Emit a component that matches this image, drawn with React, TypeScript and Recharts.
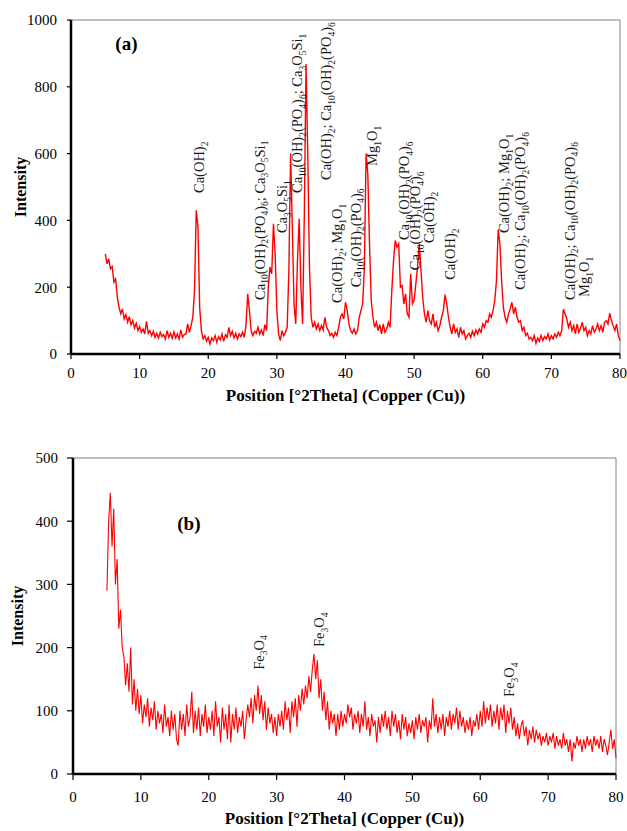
import React from 'react';
import { LineChart, Line, XAxis, YAxis, ReferenceLine, ReferenceDot } from 'recharts';

// scan grid of both patterns: 5° to 80° 2θ, one reading every 0.25°
const STEP = 0.25;
const START = 5;

// (a) intensities
const intensityA = [
  300, 270, 285, 255, 262, 215, 225, 170, 140, 120, 135, 105, 118, 95, 112, 88, 100, 78, 92, 70,
  82, 65, 75, 60, 98, 62, 70, 55, 68, 50, 62, 48, 65, 52, 58, 45, 70, 50, 62, 47,
  66, 48, 60, 45, 72, 50, 58, 60, 90, 65, 85, 110, 190, 430, 380, 140, 70, 45, 55, 38,
  50, 30, 48, 40, 55, 35, 52, 42, 60, 38, 58, 50, 80, 55, 68, 48, 62, 45, 60, 52,
  65, 50, 85, 180, 130, 70, 55, 68, 62, 80, 60, 72, 55, 88, 70, 200, 260, 240, 390, 300,
  130, 60, 40, 70, 55, 65, 80, 250, 600, 380, 150, 90, 280, 405, 200, 90, 420, 868, 600, 260,
  110, 80, 95, 75, 90, 70, 85, 72, 110, 80, 70, 55, 62, 50, 65, 55, 80, 110, 120, 105,
  155, 130, 90, 70, 62, 75, 60, 70, 110, 130, 150, 260, 600, 540, 330, 160, 110, 80, 95, 70,
  88, 60, 90, 65, 75, 95, 80, 190, 280, 340, 320, 330, 200, 205, 150, 180, 120, 110, 240, 150,
  160, 210, 260, 330, 250, 170, 120, 95, 130, 100, 90, 120, 80, 95, 70, 85, 110, 130, 178, 150,
  110, 80, 60, 90, 65, 75, 50, 80, 60, 70, 45, 55, 62, 50, 68, 55, 72, 60, 75, 65,
  90, 80, 100, 95, 120, 110, 130, 160, 220, 373, 330, 220, 140, 110, 95, 120, 135, 155, 120, 140,
  110, 95, 100, 70, 80, 55, 62, 45, 50, 40, 55, 32, 48, 38, 55, 40, 52, 45, 60, 42,
  55, 45, 60, 50, 65, 55, 70, 134, 120, 105, 80, 95, 70, 85, 60, 90, 65, 78, 95, 70,
  80, 55, 70, 60, 85, 65, 75, 90, 70, 85, 65, 95, 100, 90, 122, 100, 85, 70, 90, 55,
  40,
];

// (b) intensities
const intensityB = [
  290, 400, 445, 360, 420, 300, 340, 230, 260, 200, 185, 140, 175, 130, 200, 110, 150, 100, 135, 95,
  125, 80, 110, 90, 120, 75, 105, 85, 115, 70, 100, 80, 95, 65, 110, 75, 90, 60, 100, 70,
  95, 55, 45, 100, 70, 95, 60, 110, 75, 90, 130, 65, 100, 70, 105, 60, 95, 75, 110, 65,
  90, 70, 100, 60, 115, 75, 90, 50, 105, 70, 95, 55, 110, 50, 95, 70, 105, 65, 90, 75,
  100, 55, 85, 110, 90, 120, 80, 125, 100, 140, 95, 125, 85, 115, 70, 105, 80, 95, 65, 90,
  60, 95, 75, 100, 70, 115, 85, 105, 65, 115, 90, 120, 75, 125, 100, 135, 110, 140, 120, 155,
  130, 165, 190, 150, 180, 120, 150, 100, 130, 85, 115, 70, 100, 80, 95, 60, 95, 70, 100, 75,
  95, 80, 110, 90, 105, 70, 95, 80, 100, 65, 95, 75, 115, 70, 90, 60, 95, 75, 85, 50,
  90, 65, 95, 75, 100, 70, 90, 60, 100, 75, 95, 65, 85, 55, 95, 70, 90, 60, 80, 65,
  85, 55, 90, 70, 95, 65, 85, 75, 90, 50, 85, 70, 120, 75, 95, 65, 90, 70, 95, 60,
  90, 75, 100, 70, 95, 80, 105, 70, 100, 75, 90, 65, 85, 70, 90, 60, 85, 75, 95, 70,
  100, 75, 115, 80, 105, 85, 110, 75, 100, 80, 110, 70, 105, 85, 110, 65, 100, 80, 105, 70,
  90, 60, 80, 55, 75, 85, 60, 75, 45, 70, 55, 75, 50, 70, 55, 65, 45, 60, 50, 65,
  45, 60, 50, 65, 40, 60, 45, 55, 40, 65, 45, 55, 35, 55, 20, 50, 40, 60, 45, 55,
  35, 55, 40, 60, 45, 55, 35, 60, 45, 55, 40, 60, 35, 55, 45, 30, 50, 70, 40, 55,
  25,
];

const xTicks = [0, 10, 20, 30, 40, 50, 60, 70, 80];
const yTicksA = [0, 200, 400, 600, 800, 1000];
const yTicksB = [0, 100, 200, 300, 400, 500];

// phase labels: [text, 2θ, intensity where the rotated text starts]
const phasesA: [string, number, number][] = [
  ['Ca(OH)_2', 19.45, 482],
  ['Ca_10(OH)_2(PO_4)_6; Ca_3O_5Si_1', 28.2, 162],
  ['Ca_3O_5Si_1', 31.5, 362],
  ['Ca_10(OH)_2(PO_4)_6; Ca_3O_5Si_1', 33.7, 482],
  ['Ca(OH)_2; Ca_10(OH)_2(PO_4)_6', 37.95, 521],
  ['Ca(OH)_2; Mg_1O_1', 39.55, 153],
  ['Ca_10(OH)_2(PO_4)_6', 42.2, 200],
  ['Mg_1O_1', 44.65, 563],
  ['Ca_10(OH)_2(PO_4)_6', 49.3, 341],
  ['Ca_10(OH)_2(PO_4)_6', 50.9, 251],
  ['Ca(OH)_2', 52.95, 332],
  ['Ca(OH)_2', 56.0, 222],
  ['Ca(OH)_2; Mg_1O_1', 63.9, 362],
  ['Ca(OH)_2; Ca_10(OH)_2(PO_4)_6', 66.2, 192],
  ['Ca(OH)_2; Ca_10(OH)_2(PO_4)_6', 73.4, 162],
  ['Mg_1O_1', 75.55, 171],
];

const phasesB: [string, number, number][] = [
  ['Fe_3O_4', 28.1, 165],
  ['Fe_3O_4', 37.0, 201],
  ['Fe_3O_4', 65.0, 122],
];

const FONT = '"Liberation Serif", "Times New Roman", serif';
const RED = '#ff0000';

const toRows = (values: number[]) =>
  values.map((v, i) => ({ x: START + i * STEP, y: v }));

function Formula({ text }: { text: string }) {
  let low = false;
  return (
    <>
      {text
        .split(/(_\d+)/)
        .filter(Boolean)
        .map((part, i) => {
          if (part.startsWith('_')) {
            const dy = low ? 0 : 3.5;
            low = true;
            return (
              <tspan key={i} dy={dy} fontSize={9.5}>
                {part.slice(1)}
              </tspan>
            );
          }
          const dy = low ? -3.5 : 0;
          low = false;
          return (
            <tspan key={i} dy={dy}>
              {part}
            </tspan>
          );
        })}
    </>
  );
}

const phaseLabel = (text: string) => (props: any) => {
  const vb = props.viewBox || {};
  const x = vb.x + (vb.width || 0) / 2;
  const y = vb.y + (vb.height || 0) / 2;
  return (
    <text
      x={x}
      y={y}
      transform={`rotate(-90 ${x} ${y})`}
      textAnchor="start"
      fontFamily={FONT}
      fontSize={14.5}
      fill="#1a1a1a"
    >
      <Formula text={text} />
    </text>
  );
};

const panelTag = (text: string) => (props: any) => {
  const vb = props.viewBox || {};
  return (
    <text x={vb.x} y={vb.y} fontFamily={FONT} fontSize={19} fontWeight="bold" fill="#000">
      {text}
    </text>
  );
};

const xTitle = (offset: number) => (props: any) => {
  const vb = props.viewBox || {};
  return (
    <text
      x={vb.x + vb.width / 2}
      y={vb.y + offset}
      textAnchor="middle"
      dominantBaseline="central"
      fontFamily={FONT}
      fontSize={17}
      fontWeight="bold"
      fill="#000"
    >
      Position [°2Theta] (Copper (Cu))
    </text>
  );
};

const yTitle = (cx: number) => (props: any) => {
  const vb = props.viewBox || {};
  const cy = vb.y + vb.height / 2;
  return (
    <text
      x={cx}
      y={cy}
      transform={`rotate(-90 ${cx} ${cy})`}
      textAnchor="middle"
      dominantBaseline="central"
      fontFamily={FONT}
      fontSize={16}
      fontWeight="bold"
      fill="#000"
    >
      Intensity
    </text>
  );
};

const tickStyle = { fontSize: 15, fill: '#000', fontFamily: FONT };

export default function App() {
  const rowsA = toRows(intensityA);
  const rowsB = toRows(intensityB);

  return (
    <div style={{ position: 'absolute', left: 0, top: 0, width: 627, height: 831, background: '#fff' }}>
      <div style={{ position: 'absolute', left: 0, top: 0 }}>
        <LineChart width={627} height={420} data={rowsA} margin={{ top: 20, right: 7, left: 0, bottom: 0 }}>
          <XAxis
            dataKey="x"
            type="number"
            domain={[0, 80]}
            ticks={xTicks}
            height={66}
            tickSize={5}
            tickMargin={8}
            tick={tickStyle}
            axisLine={{ stroke: '#000', strokeWidth: 2.5 }}
            tickLine={{ stroke: '#000', strokeWidth: 1.2 }}
            label={xTitle(41)}
          />
          <YAxis
            type="number"
            domain={[0, 1000]}
            ticks={yTicksA}
            width={71}
            tickSize={4}
            tickMargin={10}
            tick={tickStyle}
            axisLine={{ stroke: '#000', strokeWidth: 2.5 }}
            tickLine={{ stroke: '#000', strokeWidth: 1.2 }}
            label={yTitle(20)}
          />
          <ReferenceLine y={1000} stroke="#808080" strokeWidth={1} />
          <ReferenceLine x={80} stroke="#808080" strokeWidth={1} />
          <Line type="linear" dataKey="y" stroke={RED} strokeWidth={1.4} dot={false} isAnimationActive={false} />
          <ReferenceDot x={6.46} y={910} r={0} fill="none" stroke="none" label={panelTag('(a)')} />
          {phasesA.map(([text, x, y], i) => (
            <ReferenceDot key={i} x={x} y={y} r={0} fill="none" stroke="none" label={phaseLabel(text)} />
          ))}
        </LineChart>
      </div>
      <div style={{ position: 'absolute', left: 0, top: 430 }}>
        <LineChart width={627} height={401} data={rowsB} margin={{ top: 28, right: 11, left: 0, bottom: 0 }}>
          <XAxis
            dataKey="x"
            type="number"
            domain={[0, 80]}
            ticks={xTicks}
            height={57}
            tickSize={6}
            tickMargin={11}
            tick={tickStyle}
            axisLine={{ stroke: '#000', strokeWidth: 2.5 }}
            tickLine={{ stroke: '#000', strokeWidth: 1.2 }}
            label={xTitle(44)}
          />
          <YAxis
            type="number"
            domain={[0, 500]}
            ticks={yTicksB}
            width={73}
            tickSize={6}
            tickMargin={9}
            tick={tickStyle}
            axisLine={{ stroke: '#000', strokeWidth: 2.5 }}
            tickLine={{ stroke: '#000', strokeWidth: 1.2 }}
            label={yTitle(17)}
          />
          <ReferenceLine y={500} stroke="#808080" strokeWidth={1} />
          <ReferenceLine x={80} stroke="#808080" strokeWidth={1} />
          <Line type="linear" dataKey="y" stroke={RED} strokeWidth={1.1} dot={false} isAnimationActive={false} />
          <ReferenceDot x={15.36} y={386} r={0} fill="none" stroke="none" label={panelTag('(b)')} />
          {phasesB.map(([text, x, y], i) => (
            <ReferenceDot key={i} x={x} y={y} r={0} fill="none" stroke="none" label={phaseLabel(text)} />
          ))}
        </LineChart>
      </div>
    </div>
  );
}
